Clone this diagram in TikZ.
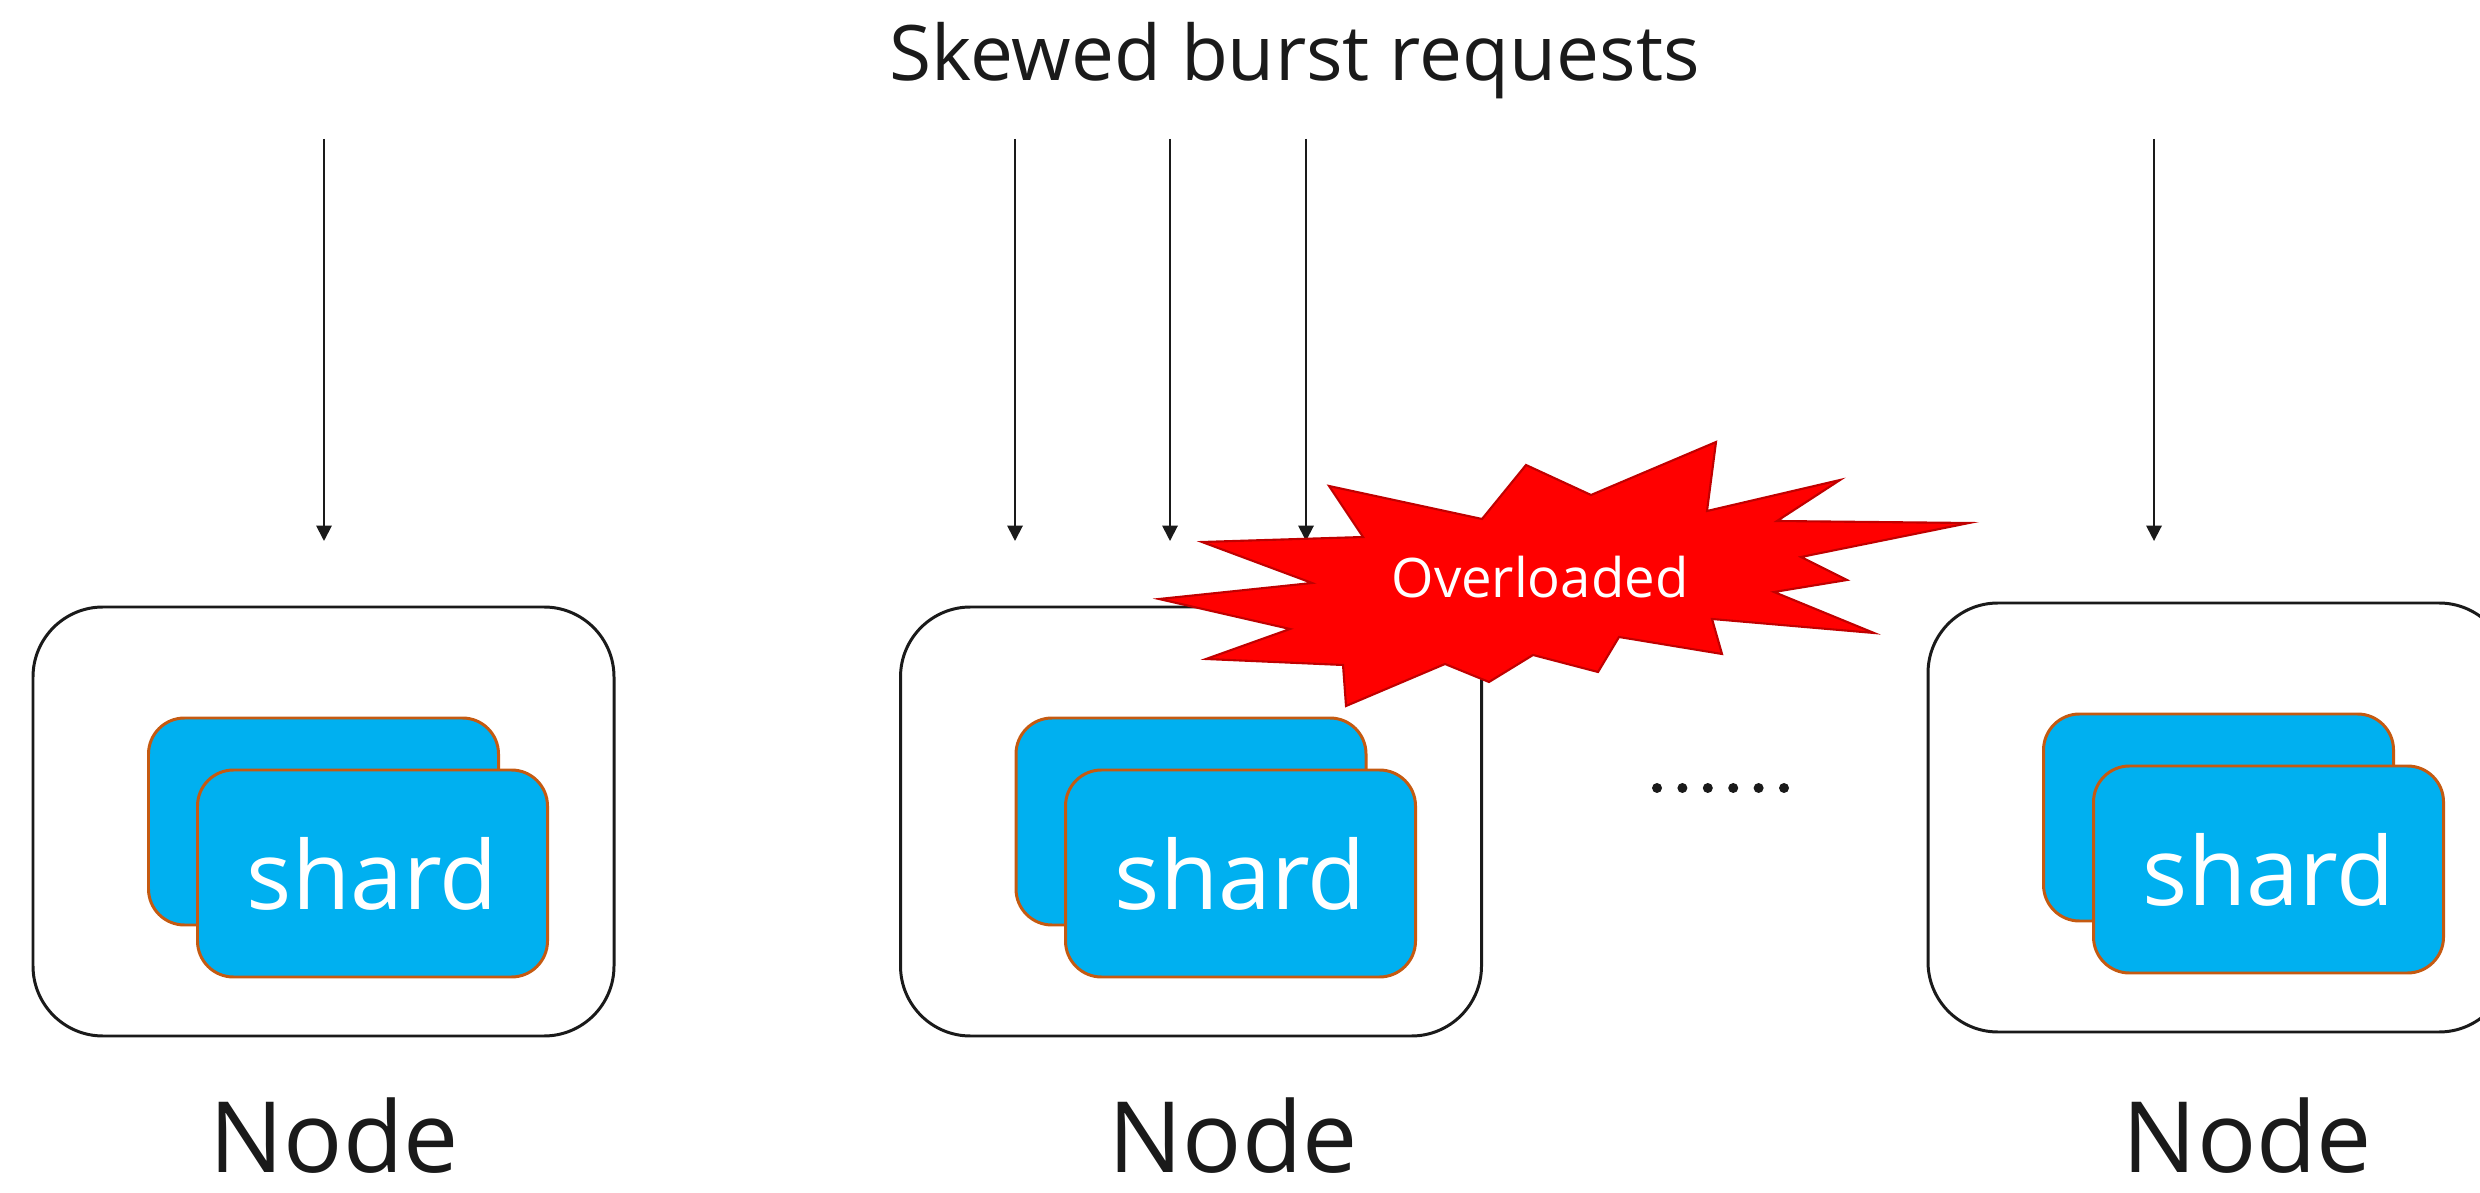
\documentclass[tikz,border=0pt]{standalone}
\usepackage{fontspec}
\setmainfont{Open Sans}
\usetikzlibrary{arrows.meta,positioning,calc}

\definecolor{shardblue}{HTML}{00B0F0}
\definecolor{shardedge}{HTML}{C55A11}
\definecolor{inkgray}{HTML}{1A1A1A}
\definecolor{burstedge}{HTML}{C00000}

\tikzset{
  nodebox/.style={draw=inkgray, line width=0.85pt, rounded corners=0.7cm,
    minimum width=5.81cm, minimum height=4.29cm},
  shardbox/.style={draw=shardedge, fill=shardblue, line width=0.85pt,
    rounded corners=0.36cm, minimum width=3.5cm, minimum height=2.07cm,
    inner sep=0pt, text=white, font=\fontsize{27}{32}\selectfont},
  req/.style={draw=inkgray, line width=0.55pt, -{Triangle[width=4.4pt,length=4.4pt]}},
  nodelabel/.style={anchor=base, inner sep=0pt, text=inkgray, font=\fontsize{28}{34}\selectfont},
}

\begin{document}
\begin{tikzpicture}
            \useasboundingbox (0,0) rectangle (24.8,11.92);

            % Title
            \node[anchor=base, text=inkgray, font=\fontsize{21.8}{26}\selectfont] (title) at (12.945,11.11) {Skewed burst requests};

            % Requests
            \foreach \x/\n in {3.24/a, 10.15/b, 11.70/c, 13.06/d, 21.54/e} {
                \coordinate (src\n) at (\x,10.53);
                \coordinate (dst\n) at (\x,6.51);
                \draw[req] (src\n) -- (dst\n);
            }

            % Node 1
            \node[nodebox] (node1) at (3.235,3.705) {};
            \node[shardbox] (back1) at (node1.center) {};
            \node[shardbox] (shard1) at ($(back1)+(0.49,-0.52)$) {shard};
            \node[nodelabel] (lab1) at (3.34,0.2) {Node};

            % Node 2
            \node[nodebox] (node2) at (11.91,3.705) {};
            \node[shardbox] (back2) at (node2.center) {};
            \node[shardbox] (shard2) at ($(back2)+(0.495,-0.52)$) {shard};
            \node[nodelabel] (lab2) at (12.33,0.2) {Node};

            % Dots
            \foreach \i in {0,...,5}
                \fill[inkgray] (16.57+0.254*\i,4.04) circle (0.05);

            % Node 3
            \node[nodebox] (node3) at (22.185,3.745) {};
            \node[shardbox] (back3) at (node3.center) {};
            \node[shardbox] (shard3) at ($(back3)+(0.5,-0.52)$) {shard};
            \node[nodelabel] (lab3) at (22.475,0.2) {Node};

            % Overload burst
            \draw[draw=burstedge, fill=red, line width=0.6pt]
                (13.29,7.06) -- (14.82,6.73) -- (15.26,7.27) -- (15.91,6.97)
                -- (17.16,7.50) -- (17.07,6.81) -- (18.40,7.12) -- (17.77,6.71)
                -- (19.69,6.69) -- (18.01,6.35) -- (18.47,6.12) -- (17.74,6.00)
                -- (18.74,5.59) -- (17.12,5.73) -- (17.22,5.38) -- (16.19,5.55)
                -- (15.98,5.20) -- (15.33,5.37) -- (14.89,5.10) -- (14.45,5.28)
                -- (13.46,4.86) -- (13.43,5.27) -- (12.06,5.33) -- (12.90,5.63)
                -- (11.59,5.93) -- (13.12,6.09) -- (12.02,6.50) -- (13.63,6.55)
                -- cycle;
            \node[text=white, font=\fontsize{15.5}{18}\selectfont] (burst) at (15.40,6.15) {Overloaded};
\end{tikzpicture}
\end{document}
